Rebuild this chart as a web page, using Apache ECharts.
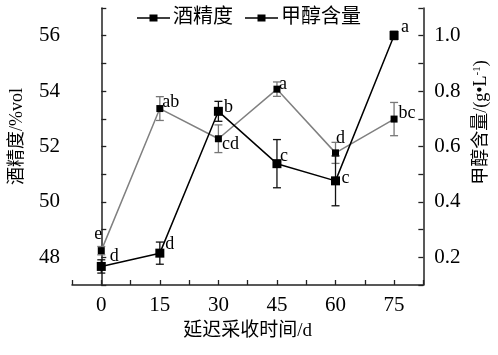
<!DOCTYPE html>
<html><head><meta charset="utf-8">
<script src="https://cdn.jsdelivr.net/npm/echarts@6/dist/echarts.min.js"></script>
<style>html,body{margin:0;padding:0;background:#fff}#c{width:498px;height:355px}</style>
</head><body><div id="c"></div>
<script>
// ---- data ----
var days = [0, 15, 30, 45, 60, 75];
var alcohol = [47.67, 48.15, 53.27, 51.38, 50.76, 56.01];
var alcoholErr = [0.24, 0.40, 0.36, 0.87, 0.90, 0.15];
var alcoholLetters = ['d', 'd', 'b', 'c', 'c', 'a'];
var methanol = [0.224, 0.737, 0.628, 0.807, 0.577, 0.699];
var methanolErr = [0.015, 0.043, 0.05, 0.026, 0.038, 0.06];
var methanolLetters = ['e', 'ab', 'cd', 'a', 'd', 'bc'];
var xTickLabels = ['0', '15', '30', '45', '60', '75'];
var leftTickLabels = ['48', '50', '52', '54', '56'];
var rightTickLabels = ['0.2', '0.4', '0.6', '0.8', '1.0'];
var seriesNames = ['酒精度', '甲醇含量'];

// ---- styling (label offsets in px relative to marker) ----
var alcoholLabelOffsets = [[13, -10], [10, -9], [10, -4], [7, -7], [10, -3], [11, -8]];
var methanolLabelOffsets = [[-3, -16], [11, -6], [12, 6], [6, -5], [5, -15], [13, -6]];

var SERIF = '"Liberation Serif", "Times New Roman", "Noto Sans CJK SC", serif';
var AX = '#222';
var LEGEND_ICON = 'path://M0,4.3L33,4.3L33,5.7L0,5.7Z M12.5,1.5L20.5,1.5L20.5,8.5L12.5,8.5Z';
var legendItemStyle = { color: '#000', borderColor: '#000', borderWidth: 0 };

function pairs(xs, ys) { return xs.map(function (x, i) { return [x, ys[i]]; }); }

function errData(xs, ys, es) { return xs.map(function (x, i) { return [x, ys[i] - es[i], ys[i] + es[i]]; }); }

function errRender(color) {
  return function (params, api) {
    var lo = api.coord([api.value(0), api.value(1)]);
    var hi = api.coord([api.value(0), api.value(2)]);
    var w = 4;
    var st = { stroke: color, lineWidth: 1.3 };
    return { type: 'group', children: [
      { type: 'line', shape: { x1: lo[0], y1: lo[1], x2: hi[0], y2: hi[1] }, style: st },
      { type: 'line', shape: { x1: lo[0] - w, y1: lo[1], x2: lo[0] + w, y2: lo[1] }, style: st },
      { type: 'line', shape: { x1: hi[0] - w, y1: hi[1], x2: hi[0] + w, y2: hi[1] }, style: st }
    ]};
  };
}

function letterRender(letters, offsets) {
  return function (params, api) {
    var p = api.coord([api.value(0), api.value(1)]);
    var i = params.dataIndex;
    return { type: 'text', x: p[0] + offsets[i][0], y: p[1] + offsets[i][1],
      style: { text: letters[i], fill: '#000', font: '18px ' + SERIF, align: 'center', verticalAlign: 'middle' } };
  };
}

var chart = echarts.init(document.getElementById('c'), null, { renderer: 'canvas' });
chart.setOption({
  animation: false,
  backgroundColor: '#fff',
  grid: { left: 70, right: 74, top: 8, bottom: 70 },
  legend: {
    top: 3, left: 'center', itemWidth: 33, itemHeight: 10, itemGap: 12,
    itemStyle: legendItemStyle,
    lineStyle: { color: '#000', width: 0 },
    textStyle: { fontSize: 20, fontFamily: SERIF, color: '#000', padding: [0, 0, 0, -2] },
    data: [
      { name: seriesNames[0], icon: LEGEND_ICON, itemStyle: legendItemStyle },
      { name: seriesNames[1], icon: LEGEND_ICON, itemStyle: legendItemStyle }
    ]
  },
  xAxis: {
    type: 'value', min: -7.5, max: 82.5, interval: 7.5,
    name: '延迟采收时间/d', nameLocation: 'middle', nameGap: 37,
    nameTextStyle: { fontSize: 19, fontFamily: SERIF, color: '#000' },
    axisLine: { lineStyle: { color: AX, width: 1.5 } },
    axisTick: { inside: true, length: 5, lineStyle: { color: AX, width: 1.3 } },
    splitLine: { show: false },
    axisLabel: { margin: 10, fontSize: 21, fontFamily: SERIF, color: '#000',
      formatter: function (v) { var i = xTickLabels.indexOf(String(Math.round(v * 10) / 10)); return i >= 0 ? xTickLabels[i] : ''; } }
  },
  yAxis: [{
    type: 'value', min: 47, max: 57, interval: 1, position: 'left',
    name: '酒精度/%vol', nameLocation: 'middle', nameGap: 46, nameRotate: 90,
    nameTextStyle: { fontSize: 18, fontFamily: SERIF, color: '#000', padding: [0, 0, 0, 20] },
    axisLine: { show: true, lineStyle: { color: AX, width: 1.5 } },
    axisTick: { show: true, inside: true, length: 5, lineStyle: { color: AX, width: 1.3 } },
    splitLine: { show: false },
    axisLabel: { margin: 12, fontSize: 21, fontFamily: SERIF, color: '#000',
      formatter: function (v) { var s = String(Math.round(v)); return leftTickLabels.indexOf(s) >= 0 ? s : ''; } }
  }, {
    type: 'value', min: 0.1, max: 1.1, interval: 0.1, position: 'right',
    name: '甲醇含量/(g•L{sup|-1})', nameLocation: 'middle', nameGap: 42, nameRotate: 90,
    nameTextStyle: { fontSize: 18, fontFamily: SERIF, color: '#000', padding: [0, 0, 0, 48],
      rich: { sup: { fontSize: 11, fontFamily: SERIF, verticalAlign: 'top', padding: [0, 0, 8, 0] } } },
    axisLine: { show: true, lineStyle: { color: AX, width: 1.5 } },
    axisTick: { show: true, inside: true, length: 5, lineStyle: { color: AX, width: 1.3 } },
    splitLine: { show: false },
    axisLabel: { margin: 11, fontSize: 21, fontFamily: SERIF, color: '#000',
      formatter: function (v) { var s = (Math.round(v * 10) / 10).toFixed(1); return rightTickLabels.indexOf(s) >= 0 ? s : ''; } }
  }],
  series: [
    { type: 'custom', yAxisIndex: 1, renderItem: errRender('#777'), data: errData(days, methanol, methanolErr), z: 2, silent: true },
    { name: seriesNames[1], type: 'line', yAxisIndex: 1, data: pairs(days, methanol), z: 3,
      symbol: 'rect', symbolSize: 7, lineStyle: { color: '#808080', width: 1.5 }, itemStyle: { color: '#000' } },
    { type: 'custom', yAxisIndex: 0, renderItem: errRender('#111'), data: errData(days, alcohol, alcoholErr), z: 4, silent: true },
    { name: seriesNames[0], type: 'line', yAxisIndex: 0, data: pairs(days, alcohol), z: 5,
      symbol: 'rect', symbolSize: 9, lineStyle: { color: '#000', width: 1.5 }, itemStyle: { color: '#000' } },
    { type: 'custom', yAxisIndex: 1, renderItem: letterRender(methanolLetters, methanolLabelOffsets), data: pairs(days, methanol), z: 6, silent: true },
    { type: 'custom', yAxisIndex: 0, renderItem: letterRender(alcoholLetters, alcoholLabelOffsets), data: pairs(days, alcohol), z: 6, silent: true }
  ]
});
</script></body></html>
